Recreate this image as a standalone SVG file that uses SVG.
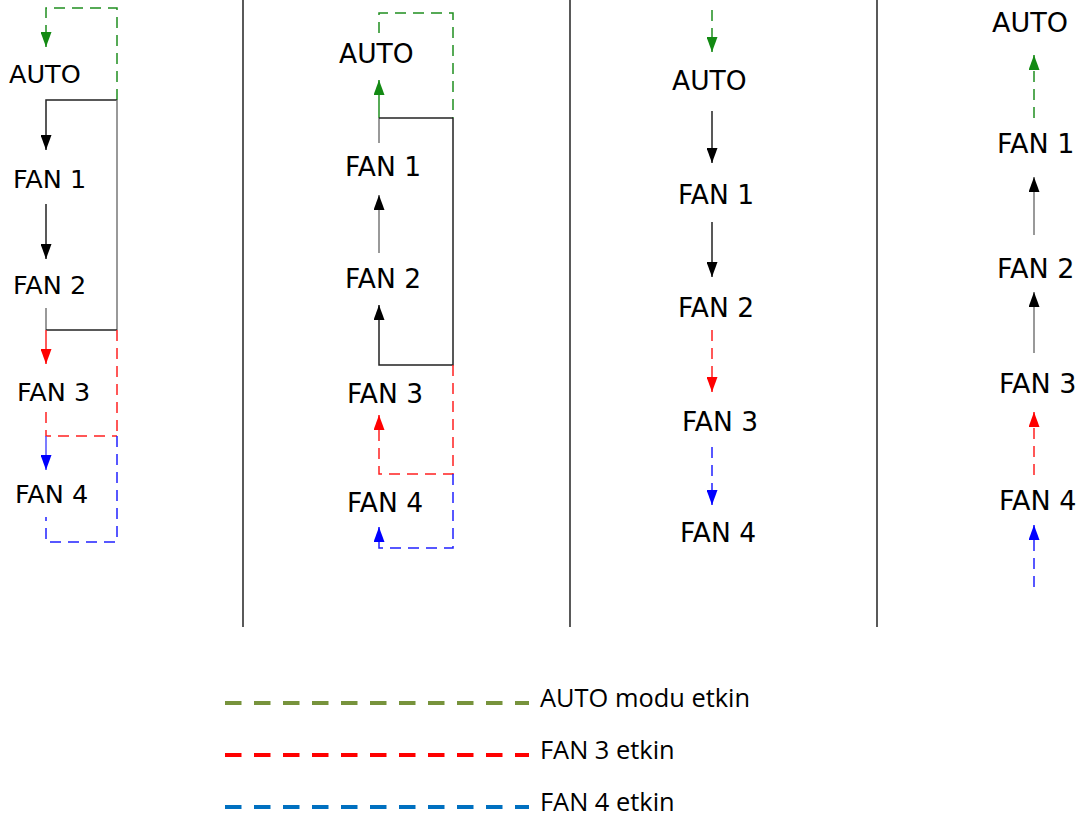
<svg xmlns="http://www.w3.org/2000/svg" width="1091" height="820" viewBox="0 0 1091 820">
<style>
.lbl{font-family:"DejaVu Sans",sans-serif;fill:#000}
.p1{font-size:25.5px}.p2{font-size:26.5px}.p3{font-size:26.5px}.p4{font-size:27px}
.c{fill:none;stroke-width:1.5}
.k{stroke:#222}.g{stroke:#777}
.gr{stroke:#1f8f1f;stroke-dasharray:11 7}
.rd{stroke:#ff2020;stroke-dasharray:11 7}
.bl{stroke:#2020ff;stroke-dasharray:11 7}
.div{stroke:#000;stroke-width:1.3}
.leg{fill:none;stroke-width:4;stroke-dasharray:16.5 12.5}
.lt{font-family:"Open Sans","Noto Sans",sans-serif;font-size:25.4px;fill:#000}
</style>
<defs>
<marker id="ak" markerUnits="userSpaceOnUse" markerWidth="15" markerHeight="11" viewBox="0 0 15 11" refX="15" refY="5.5" orient="auto"><path d="M0,0L15,5.5L0,11z" fill="#000"/></marker>
<marker id="ag" markerUnits="userSpaceOnUse" markerWidth="15" markerHeight="11" viewBox="0 0 15 11" refX="15" refY="5.5" orient="auto"><path d="M0,0L15,5.5L0,11z" fill="#138a13"/></marker>
<marker id="ar" markerUnits="userSpaceOnUse" markerWidth="15" markerHeight="11" viewBox="0 0 15 11" refX="15" refY="5.5" orient="auto"><path d="M0,0L15,5.5L0,11z" fill="#ff0000"/></marker>
<marker id="ab" markerUnits="userSpaceOnUse" markerWidth="15" markerHeight="11" viewBox="0 0 15 11" refX="15" refY="5.5" orient="auto"><path d="M0,0L15,5.5L0,11z" fill="#0000ff"/></marker>
</defs>
<g id="dividers">
<line class="div" x1="243" y1="0" x2="243" y2="627"/>
<line class="div" x1="570" y1="0" x2="570" y2="627"/>
<line class="div" x1="877" y1="0" x2="877" y2="627"/>
</g>
<g id="connectors">
<path class="c gr" d="M117,100V8H46V47" marker-end="url(#ag)"/>
<path class="c k" d="M117,100H46V150" marker-end="url(#ak)"/>
<path class="c g" d="M117,100V330"/>
<path class="c k" d="M46,204V259" marker-end="url(#ak)"/>
<path class="c g" d="M46,308V330"/>
<path class="c k" d="M46,330H117"/>
<path class="c" stroke="#ff2020" d="M46,330V364" marker-end="url(#ar)"/>
<path class="c rd" d="M117,330V436"/>
<path class="c rd" d="M46,412V436H117"/>
<path class="c" stroke="#5050ff" d="M46,436V470" marker-end="url(#ab)"/>
<path class="c bl" d="M117,436V542H46V517"/>
<path class="c gr" d="M379,33V13H453V118"/>
<path class="c" stroke="#1f8f1f" d="M379,118V80" marker-end="url(#ag)"/>
<path class="c g" d="M379,143V118"/>
<path class="c k" d="M379,118H453"/>
<path class="c k" d="M453,118V365H379V305" marker-end="url(#ak)"/>
<path class="c g" d="M379,253V195" marker-end="url(#ak)"/>
<path class="c rd" d="M453,365V474H379V415" marker-end="url(#ar)"/>
<path class="c bl" d="M453,474V548H379V527" marker-end="url(#ab)"/>
<path class="c gr" d="M712,10V52" marker-end="url(#ag)"/>
<path class="c k" d="M712,111V163" marker-end="url(#ak)"/>
<path class="c k" d="M712,222V277" marker-end="url(#ak)"/>
<path class="c rd" d="M712,330V392" marker-end="url(#ar)"/>
<path class="c bl" d="M712,447V505" marker-end="url(#ab)"/>
<path class="c gr" d="M1034,118V55" marker-end="url(#ag)"/>
<path class="c g" d="M1034,235V177" marker-end="url(#ak)"/>
<path class="c g" d="M1034,353V292" marker-end="url(#ak)"/>
<path class="c rd" d="M1034,475V412" marker-end="url(#ar)"/>
<path class="c bl" d="M1034,587V525" marker-end="url(#ab)"/>
</g>
<g id="panel1">
<text class="lbl p1" x="9" y="83">AUTO</text>
<text class="lbl p1" x="13" y="188">FAN 1</text>
<text class="lbl p1" x="13" y="294">FAN 2</text>
<text class="lbl p1" x="17" y="401">FAN 3</text>
<text class="lbl p1" x="15" y="503">FAN 4</text>
</g>
<g id="panel2">
<text class="lbl p2" x="339" y="63">AUTO</text>
<text class="lbl p2" x="345" y="176">FAN 1</text>
<text class="lbl p2" x="345" y="288">FAN 2</text>
<text class="lbl p2" x="347" y="403">FAN 3</text>
<text class="lbl p2" x="347" y="512">FAN 4</text>
</g>
<g id="panel3">
<text class="lbl p3" x="672" y="90">AUTO</text>
<text class="lbl p3" x="678" y="204">FAN 1</text>
<text class="lbl p3" x="678" y="317">FAN 2</text>
<text class="lbl p3" x="682" y="431">FAN 3</text>
<text class="lbl p3" x="680" y="542">FAN 4</text>
</g>
<g id="panel4">
<text class="lbl p4" x="992" y="32">AUTO</text>
<text class="lbl p4" x="997" y="153">FAN 1</text>
<text class="lbl p4" x="997" y="278">FAN 2</text>
<text class="lbl p4" x="999" y="393">FAN 3</text>
<text class="lbl p4" x="999" y="510">FAN 4</text>
</g>
<g id="legend">
<line class="leg" stroke="#77933c" x1="225" y1="703" x2="529" y2="703"/>
<line class="leg" stroke="#ff0000" x1="225" y1="755" x2="529" y2="755"/>
<line class="leg" stroke="#0070c0" x1="225" y1="807" x2="529" y2="807"/>
<text class="lt" x="540" y="707">AUTO modu etkin</text>
<text class="lt" x="540" y="759">FAN 3 etkin</text>
<text class="lt" x="540" y="811">FAN 4 etkin</text>
</g>
</svg>
